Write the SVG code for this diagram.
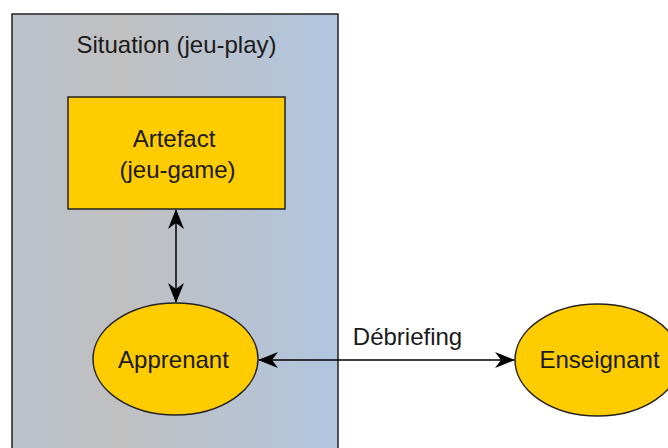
<svg xmlns="http://www.w3.org/2000/svg" width="668" height="448" viewBox="0 0 668 448">
<defs>
<linearGradient id="bg" x1="0" y1="0" x2="1" y2="0">
<stop offset="0" stop-color="#bac1cc"/>
<stop offset="0.33" stop-color="#c0c0c0"/>
<stop offset="1" stop-color="#b1c5e0"/>
</linearGradient>
<marker id="arr" viewBox="0 0 20 16" refX="19" refY="8" markerWidth="20" markerHeight="16" markerUnits="userSpaceOnUse" orient="auto-start-reverse">
<path d="M0,0 L20,8 L0,16 L6,8 Z" fill="#000"/>
</marker>
<style>
text{font-family:"Liberation Sans",Arial,sans-serif;font-size:24px;fill:#1a1a1a;text-anchor:middle}
.node{fill:#ffcc00;stroke:#222;stroke-width:1.5}
.edge{stroke:#000;stroke-width:1.5;fill:none}
</style>
</defs>
<g id="situation">
<rect x="12" y="14" width="326" height="450" fill="url(#bg)" stroke="#222" stroke-width="1.5"/>
<text x="176.5" y="53">Situation (jeu-play)</text>
</g>
<g id="connectors">
<line class="edge" x1="176" y1="210" x2="176" y2="302" marker-start="url(#arr)" marker-end="url(#arr)"/>
<line class="edge" x1="259" y1="360" x2="514" y2="360" marker-start="url(#arr)" marker-end="url(#arr)"/>
<text x="407.5" y="345">Débriefing</text>
</g>
<g id="artefact">
<rect class="node" x="68" y="97" width="217" height="112"/>
<text x="174" y="147">Artefact</text>
<text x="177.5" y="178">(jeu-game)</text>
</g>
<g id="apprenant">
<ellipse class="node" cx="175.5" cy="359" rx="82.5" ry="56"/>
<text x="173.5" y="368">Apprenant</text>
</g>
<g id="enseignant">
<ellipse class="node" cx="597.5" cy="360" rx="82.5" ry="56"/>
<text x="599.5" y="368">Enseignant</text>
</g>
</svg>
